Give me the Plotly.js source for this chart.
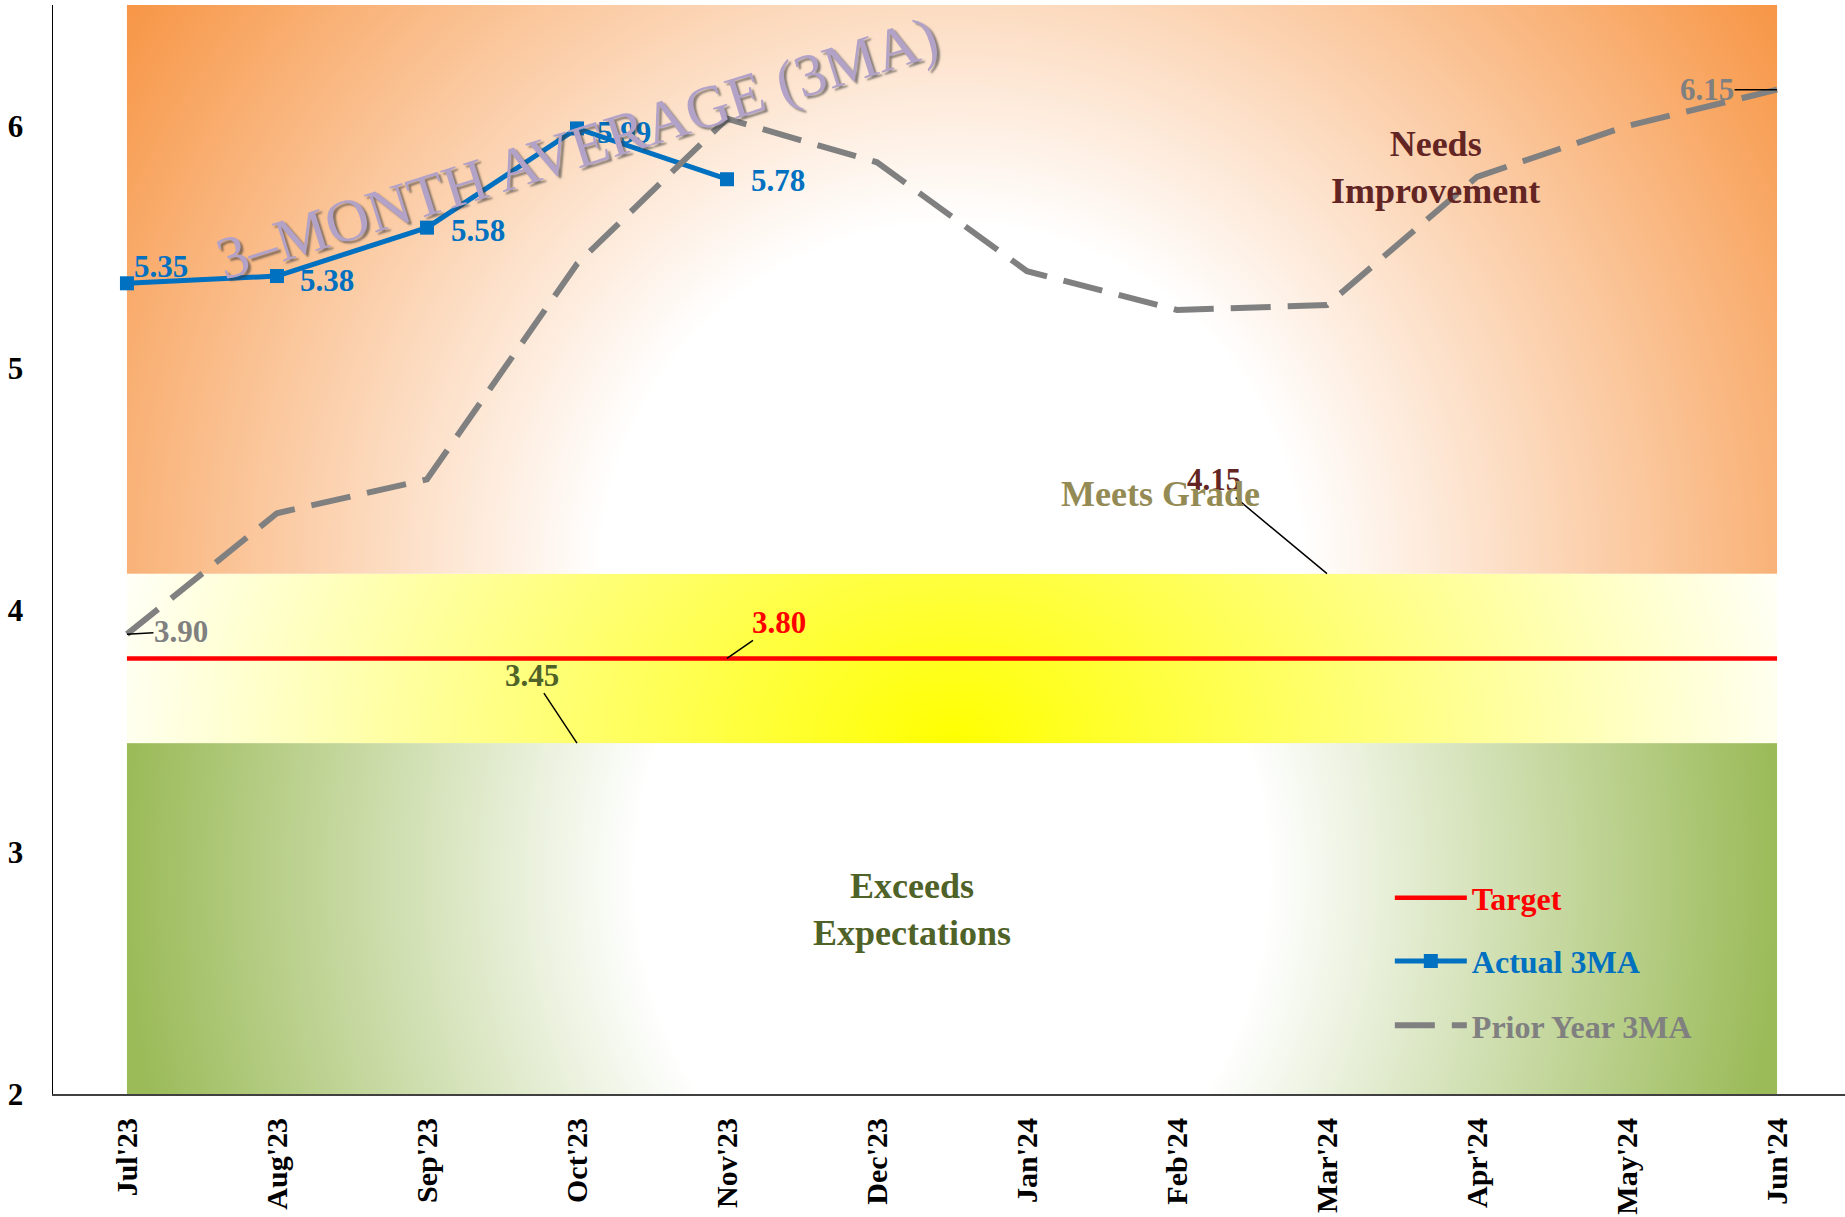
<!DOCTYPE html>
<html>
<head>
<meta charset="utf-8">
<script src="https://cdn.plot.ly/plotly-3.0.1.min.js"></script>
<style>
  html, body { margin: 0; padding: 0; background: #fff; }
  #chart { width: 1845px; height: 1217px; }
</style>
</head>
<body>
<div id="chart"></div>
<script>
// ---------------- DATA ----------------
const months = ["Jul'23", "Aug'23", "Sep'23", "Oct'23", "Nov'23", "Dec'23",
                "Jan'24", "Feb'24", "Mar'24", "Apr'24", "May'24", "Jun'24"];
const targetValues = [3.80, 3.80, 3.80, 3.80, 3.80, 3.80, 3.80, 3.80, 3.80, 3.80, 3.80, 3.80];
const actual3MA = [5.35, 5.38, 5.58, 5.99, 5.78];
const priorYear3MA = [3.90, 4.40, 4.54, 5.43, 6.03, 5.85, 5.40, 5.24, 5.26, 5.79, 6.00, 6.15];
const bandBounds = [2, 3.45, 4.15, 6.5];       // Exceeds | Meets | Needs Improvement
const bandNames = ["Exceeds<br>Expectations", "Meets Grade", "Needs<br>Improvement"];
const yTicks = [2, 3, 4, 5, 6];

// ---------------- GEOMETRY ----------------
const W = 1845, H = 1217;
const margin = { l: 53, r: 0, t: 5, b: 123, pad: 0 };
const xRange = [-0.493, 11.453];
const yRange = [bandBounds[0], bandBounds[3]];
const plotW = W - margin.l - margin.r;
const plotH = H - margin.t - margin.b;
const pxPerX = plotW / (xRange[1] - xRange[0]);
const pxPerY = plotH / (yRange[1] - yRange[0]);
const xIdx = months.map((m, i) => i);
const firstX = 0, lastX = months.length - 1;

const FONT = "Liberation Serif, Times New Roman, serif";

// ---------------- GRADIENT BANDS ----------------
function clamp01(t) { return t < 0 ? 0 : (t > 1 ? 1 : t); }
function mix(a, b, t) { return [a[0] + (b[0] - a[0]) * t, a[1] + (b[1] - a[1]) * t, a[2] + (b[2] - a[2]) * t]; }
const WHITE = [255, 255, 255], ORANGE = [247, 150, 70], YELLOW = [255, 255, 0], GREEN = [155, 187, 89];

function bandImage(w, h, fn) {
  const c = document.createElement('canvas');
  c.width = w; c.height = h;
  const ctx = c.getContext('2d');
  const img = ctx.createImageData(w, h);
  for (let py = 0; py < h; py++) {
    for (let px = 0; px < w; px++) {
      const col = fn(px + 0.5, py + 0.5, w, h);
      const k = (py * w + px) * 4;
      img.data[k] = col[0]; img.data[k + 1] = col[1]; img.data[k + 2] = col[2]; img.data[k + 3] = 255;
    }
  }
  ctx.putImageData(img, 0, 0);
  return c.toDataURL('image/png');
}

const bandW = Math.round((lastX - firstX) * pxPerX);
function bandH(i) { return Math.round((bandBounds[i + 1] - bandBounds[i]) * pxPerY); }

const greenFn = (px, py, w, h) => {
  const u = (px - w / 2) / 315, v = (py - 0.376 * h) / 360;
  const d = Math.hypot(u, v);
  return mix(WHITE, GREEN, clamp01((d - 1) / 1.62));
};
const yellowFn = (px, py, w, h) => {
  const dx = px - w / 2, dy = (h - py) * 1.3;
  const r = Math.hypot(dx, dy);
  return mix(YELLOW, WHITE, clamp01(r / 880));
};
const orangeFn = (px, py, w, h) => {
  const dx = px - w / 2, dy = h - py;
  const r = Math.hypot(dx, dy);
  return mix(WHITE, ORANGE, clamp01((r - 350) / 650));
};
const bandFns = [greenFn, yellowFn, orangeFn];

const images = bandFns.map((fn, i) => ({
  source: bandImage(bandW, bandH(i), fn),
  xref: 'x', yref: 'y',
  x: firstX, y: bandBounds[i + 1],
  sizex: lastX - firstX, sizey: bandBounds[i + 1] - bandBounds[i],
  xanchor: 'left', yanchor: 'top',
  sizing: 'stretch', layer: 'below'
}));

// ---------------- TRACES ----------------
const legendFont = { family: FONT, size: 32, weight: 700 };
const traces = [
  {
    x: xIdx, y: targetValues, type: 'scatter', mode: 'lines',
    name: '<span style="color:#FF0000">Target</span>',
    line: { color: '#FF0000', width: 4.5 },
    legend: 'legend', hoverinfo: 'skip'
  },
  {
    x: xIdx.slice(0, actual3MA.length), y: actual3MA, type: 'scatter', mode: 'lines+markers',
    name: '<span style="color:#0070C0">Actual 3MA</span>',
    line: { color: '#0070C0', width: 5 },
    marker: { symbol: 'square', size: 14, color: '#0070C0' },
    legend: 'legend2', hoverinfo: 'skip'
  },
  {
    x: xIdx, y: priorYear3MA, type: 'scatter', mode: 'lines',
    name: '<span style="color:#808080">Prior Year 3MA</span>',
    line: { color: '#808080', width: 6, dash: '40px,17px' },
    legend: 'legend3', hoverinfo: 'skip'
  }
];

// ---------------- ANNOTATIONS ----------------
const labelFont = (color) => ({ family: FONT, size: 31, color: color, weight: 700 });
const actualOffsets = [[34, 17], [50, -4], [51, -3], [47, -4], [51, -1]];
const annotations = [];
actual3MA.forEach((v, i) => {
  annotations.push({
    x: xIdx[i], y: v, text: v.toFixed(2), showarrow: false,
    xshift: actualOffsets[i][0], yshift: actualOffsets[i][1],
    font: labelFont('#0070C0')
  });
});
// leader-line labels
const pLast = priorYear3MA.length - 1;
const leaderLabels = [
  { x: xIdx[0], y: priorYear3MA[0], text: priorYear3MA[0].toFixed(2), color: '#808080', ax: 54, ay: -3 },
  { x: xIdx[pLast], y: priorYear3MA[pLast], text: priorYear3MA[pLast].toFixed(2), color: '#808080', ax: -70, ay: 0 },
  { x: xIdx[4], y: targetValues[4], text: targetValues[4].toFixed(2), color: '#FF0000', ax: 52, ay: -36 },
  { x: xIdx[3], y: bandBounds[1], text: bandBounds[1].toFixed(2), color: '#4F6228', ax: -45, ay: -68 },
  { x: xIdx[8], y: bandBounds[2], text: bandBounds[2].toFixed(2), color: '#632523', ax: -113, ay: -94 }
];
leaderLabels.forEach(l => {
  annotations.push({
    x: l.x, y: l.y, text: l.text, showarrow: true, arrowhead: 0,
    arrowwidth: 1.5, arrowcolor: '#000', ax: l.ax, ay: l.ay,
    standoff: 0, borderpad: 0,
    font: labelFont(l.color)
  });
});
// band names
const bandNamePos = [[5.233, 2.762, '#4F6228'], [6.89, 4.479, '#948A54'], [8.724, 5.828, '#632523']];
bandNames.forEach((n, i) => {
  annotations.push({
    x: bandNamePos[i][0], y: bandNamePos[i][1], text: n, showarrow: false,
    font: { family: FONT, size: 36, color: bandNamePos[i][2], weight: 700 },
    align: 'center'
  });
});
// watermark title
annotations.push({
  x: 3.0, y: 5.91, text: '3–MONTH AVERAGE (3MA)', showarrow: false,
  textangle: -17.5,
  font: { family: FONT, size: 60, color: '#B3A2C7', shadow: '2px 3px 2px rgba(60,60,60,0.6)' }
});

// ---------------- LAYOUT ----------------
const legendBase = {
  x: 0.746, xanchor: 'left', yanchor: 'middle',
  bgcolor: 'rgba(0,0,0,0)', borderwidth: 0, font: legendFont, itemwidth: 72
};
const layout = {
  width: W, height: H, margin: margin,
  paper_bgcolor: '#fff', plot_bgcolor: '#fff',
  font: { family: FONT, size: 30, color: '#000' },
  showlegend: true,
  legend: Object.assign({}, legendBase, { y: 0.180 }),
  legend2: Object.assign({}, legendBase, { y: 0.122 }),
  legend3: Object.assign({}, legendBase, { y: 0.063 }),
  xaxis: {
    range: xRange, tickmode: 'array', tickvals: xIdx, ticktext: months,
    tickangle: -90, showgrid: false, zeroline: false, ticks: '',
    showline: true, linecolor: '#404040', linewidth: 2,
    ticklabelstandoff: 10,
    tickfont: { family: FONT, size: 30, color: '#000', weight: 700 }
  },
  yaxis: {
    range: yRange, tickmode: 'array', tickvals: yTicks, ticktext: yTicks.map(String),
    showgrid: false, zeroline: false, ticks: '',
    showline: true, linecolor: '#000', linewidth: 1.5,
    ticklabelstandoff: 22,
    tickfont: { family: FONT, size: 31, color: '#000', weight: 700 }
  },
  images: images,
  annotations: annotations
};

Plotly.newPlot('chart', traces, layout, { displayModeBar: false, staticPlot: true });
</script>
</body>
</html>
